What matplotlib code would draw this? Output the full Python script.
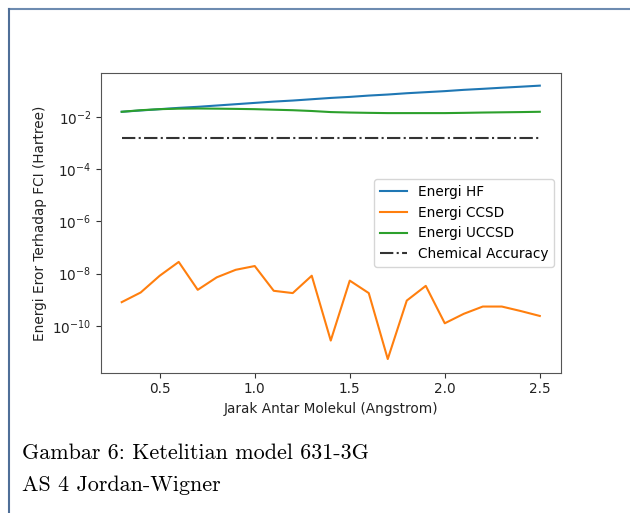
import numpy as np
import matplotlib
matplotlib.use("Agg")
import matplotlib.pyplot as plt
from matplotlib.lines import Line2D

# Interatomic distance (Angstrom)
jarak = [0.3, 0.4, 0.5, 0.6, 0.7, 0.8, 0.9, 1.0, 1.1, 1.2, 1.3, 1.4,
         1.5, 1.6, 1.7, 1.8, 1.9, 2.0, 2.1, 2.2, 2.3, 2.4, 2.5]

# Energy error relative to FCI (Hartree)
err_hf = [0.0155, 0.0174, 0.0195, 0.0219, 0.0240, 0.0269, 0.0302, 0.0339,
          0.0380, 0.0417, 0.0468, 0.0525, 0.0575, 0.0646, 0.0708, 0.0794,
          0.0871, 0.0955, 0.107, 0.117, 0.129, 0.141, 0.155]
err_ccsd = [8.1e-10, 1.9e-9, 8.3e-9, 2.8e-8, 2.4e-9, 7.2e-9, 1.4e-8,
            1.95e-8, 2.2e-9, 1.8e-9, 8.3e-9, 2.75e-11, 5.4e-9, 1.8e-9,
            5.4e-12, 9.3e-10, 3.4e-9, 1.26e-10, 2.9e-10, 5.5e-10, 5.5e-10,
            3.7e-10, 2.4e-10]
err_uccsd = [0.0155, 0.0178, 0.0195, 0.0204, 0.0207, 0.0204, 0.0200, 0.0195,
             0.0186, 0.0178, 0.0166, 0.0151, 0.0145, 0.0141, 0.0138, 0.0138,
             0.0138, 0.0138, 0.0141, 0.0145, 0.0148, 0.0151, 0.0155]
chem_acc = 1.6e-3

fs = 9.8
fig = plt.figure(figsize=(6.3, 5.13), dpi=100)
ax = fig.add_axes([0.160, 0.2735, 0.730, 0.5835])

ax.plot(jarak, err_hf, label='Energi HF')
ax.plot(jarak, err_ccsd, label='Energi CCSD')
ax.plot(jarak, err_uccsd, label='Energi UCCSD')
ax.plot(jarak, [chem_acc] * len(jarak), 'k-.', alpha=0.8, label='Chemical Accuracy')

ax.set_yscale('log')
ax.set_ylim(10 ** -11.79, 10 ** -0.34)
ax.set_yticks([1e-10, 1e-8, 1e-6, 1e-4, 1e-2])
ax.yaxis.set_minor_locator(matplotlib.ticker.NullLocator())
ax.set_xticks([0.5, 1.0, 1.5, 2.0, 2.5])
ax.tick_params(labelsize=fs, colors='#333333', labelcolor='#222222')
for sp in ax.spines.values():
    sp.set_color('#555555')

ax.set_xlabel('Jarak Antar Molekul (Angstrom)', fontsize=fs, color='#222222')
ax.set_ylabel('Energi Eror Terhadap FCI (Hartree)', fontsize=fs, color='#222222')
ax.legend(loc='center right', fontsize=fs)

# document caption and page frame
fig.text(22 / 630, 1 - 459 / 513, 'Gambar 6: Ketelitian model 631-3G',
         family='cmr10', fontsize=15.9, va='baseline')
fig.text(22 / 630, 1 - 491 / 513, 'AS 4 Jordan-Wigner',
         family='cmr10', fontsize=15.9, va='baseline')
fig.add_artist(Line2D([9 / 630, 1], [1 - 8.5 / 513] * 2, color='#6d8bb0', lw=1.5))
fig.add_artist(Line2D([9 / 630] * 2, [0, 1 - 8.5 / 513], color='#4f6f98', lw=1.5))

fig.savefig('out.png', dpi=100)
